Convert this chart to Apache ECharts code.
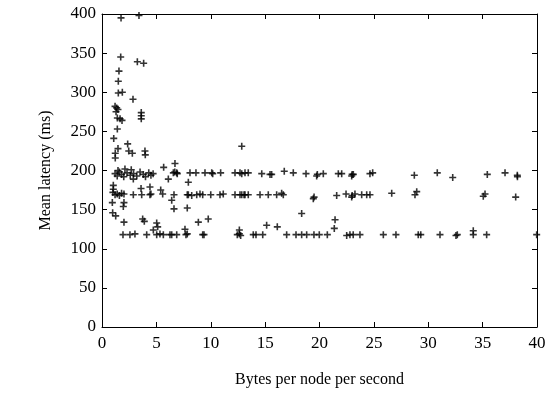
<!DOCTYPE html>
<html>
<head>
<meta charset="utf-8">
<script src="https://cdn.jsdelivr.net/npm/echarts@6/dist/echarts.min.js"></script>
<style>
  html, body { margin: 0; padding: 0; background: #fff; }
  #chart { width: 551px; height: 393px; }
</style>
</head>
<body>
<div id="chart"></div>
<script>
// points, grouped by latency band: [bytes/node/s, latency ms]
const upperBand = [
  [1.2,196],[1.4,193],[1.6,198],[1.8,195],[2.0,192],[2.3,197],[2.6,194],[2.9,196],[3.2,193],[3.5,198],
  [3.8,195],[4.0,192],[4.3,197],[4.5,194],[4.7,196],[2.88,189],[6.1,189],[6.56,197],[6.87,197],[6.92,196],
  [8.09,197],[8.64,197],[9.47,197],[10.09,197],[10.18,196],[10.91,197],[12.23,197],[12.69,197],[13.15,197],
  [13.45,197],[12.85,196],[14.69,196],[15.45,195],[15.6,195],[16.76,199],[17.59,197],[18.76,196],[19.74,193],
  [19.8,195],[20.35,196],[21.73,196],[22.04,196],[22.96,193],[23.0,195],[23.11,195],[24.64,196],[24.89,197],
  [28.72,194],[30.83,197],[32.25,191],[35.43,195],[37.06,197],[38.19,194],[38.2,192]
];
const middleBand = [
  [1.0,172],[1.2,169],[1.4,170],[1.6,168],[1.8,171],[2.02,170],[2.88,169],[3.65,169],[4.41,169],[4.5,170],
  [5.4,175],[5.58,170],[6.62,169],[7.84,169],[7.94,169],[8.25,168],[8.71,169],[9.01,170],[9.26,169],[10.0,169],
  [10.85,169],[11.15,170],[12.23,169],[12.69,169],[13.06,169],[13.45,169],[12.85,169],[13.15,169],[14.53,169],
  [15.29,169],[16.06,169],[16.52,171],[16.67,169],[19.43,164],[19.5,166],[21.58,168],[22.44,170],[22.96,166],
  [23.0,168],[23.26,170],[23.88,169],[24.34,169],[24.64,169],[26.64,171],[28.78,169],[28.94,173],[35.06,167],
  [35.22,170],[38.04,166]
];
const lowerBand = [
  [1.93,118],[2.57,118],[3.03,119],[4.11,118],[5.03,118],[5.33,119],[5.64,118],[6.25,118],[6.41,118],[6.87,118],
  [7.72,118],[7.84,119],[9.26,118],[9.38,118],[12.44,118],[12.63,119],[12.75,117],[13.91,118],[14.16,118],
  [14.78,118],[16.98,118],[17.84,118],[18.36,118],[18.82,118],[19.49,118],[19.98,118],[20.72,118],[22.5,117],
  [22.8,118],[23.1,118],[23.72,118],[25.87,118],[27.03,118],[29.08,118],[29.31,118],[31.08,118],[32.55,117],
  [32.67,118],[34.14,118],[35.37,118],[39.97,118]
];
const scattered = [
  [1.75,395],[3.4,398],[1.72,345],[3.25,339],[3.83,337],[1.56,327],[1.5,314],[1.5,299],[1.87,300],[2.85,291],
  [1.2,282],[1.35,280],[1.47,278],[1.29,275],[1.41,267],[1.66,266],[1.84,264],[3.61,274],[3.61,270],[3.61,266],
  [1.41,253],[1.08,241],[2.36,234],[1.47,228],[1.22,222],[1.22,216],[2.46,225],[2.79,222],[3.95,225],[3.98,220],
  [5.67,204],[6.69,198],[1.47,200],[2.11,202],[2.69,201],[1.04,181],[1.04,176],[3.59,177],[4.41,179],[0.95,159],
  [2.02,159],[1.96,154],[0.98,146],[1.26,142],[2.02,134],[3.74,138],[3.89,135],[5.03,133],[5.12,128],[4.72,124],
  [12.85,231],[6.71,209],[7.94,185],[6.41,162],[6.62,151],[7.84,152],[8.86,134],[9.77,138],[7.63,125],[12.63,124],
  [18.36,145],[21.43,137],[21.36,126],[15.14,130],[16.12,128],[34.14,123]
];

const font = "Liberation Serif";
const plus = "path://M5,0L5,10M0,5L10,5";

const chart = echarts.init(document.getElementById("chart"));

const frameAxis = (extra) => Object.assign({
  type: "value",
  axisLine: { show: true, onZero: false, lineStyle: { color: "#000", width: 1 } },
  axisTick: { show: true, inside: true, length: 5, lineStyle: { color: "#000" } },
  splitLine: { show: false },
}, extra);

chart.setOption({
  animation: false,
  textStyle: { fontFamily: font },
  grid: { left: 102, right: 14, top: 14, bottom: 65 },
  xAxis: [
    frameAxis({
      min: 0, max: 40, interval: 5,
      name: "Bytes per node per second",
      nameLocation: "middle",
      nameGap: 45,
      nameTextStyle: { fontFamily: font, fontSize: 16, color: "#000" },
      axisLabel: { fontFamily: font, fontSize: 17, color: "#000", margin: 8 },
    }),
    frameAxis({ min: 0, max: 40, interval: 5, position: "top", axisLabel: { show: false } }),
  ],
  yAxis: [
    frameAxis({
      min: 0, max: 400, interval: 50,
      name: "Mean latency (ms)",
      nameLocation: "middle",
      nameGap: 48,
      nameTextStyle: { fontFamily: font, fontSize: 16, color: "#000" },
      axisLabel: { fontFamily: font, fontSize: 17, color: "#000", margin: 6 },
    }),
    frameAxis({ min: 0, max: 400, interval: 50, position: "right", axisLabel: { show: false } }),
  ],
  series: [upperBand, middleBand, lowerBand, scattered].map((pts) => ({
    type: "scatter",
    data: pts,
    symbol: plus,
    symbolSize: 7,
    itemStyle: { color: "rgba(0,0,0,0)", borderColor: "#000", borderWidth: 1.6 },
  })),
});
</script>
</body>
</html>
